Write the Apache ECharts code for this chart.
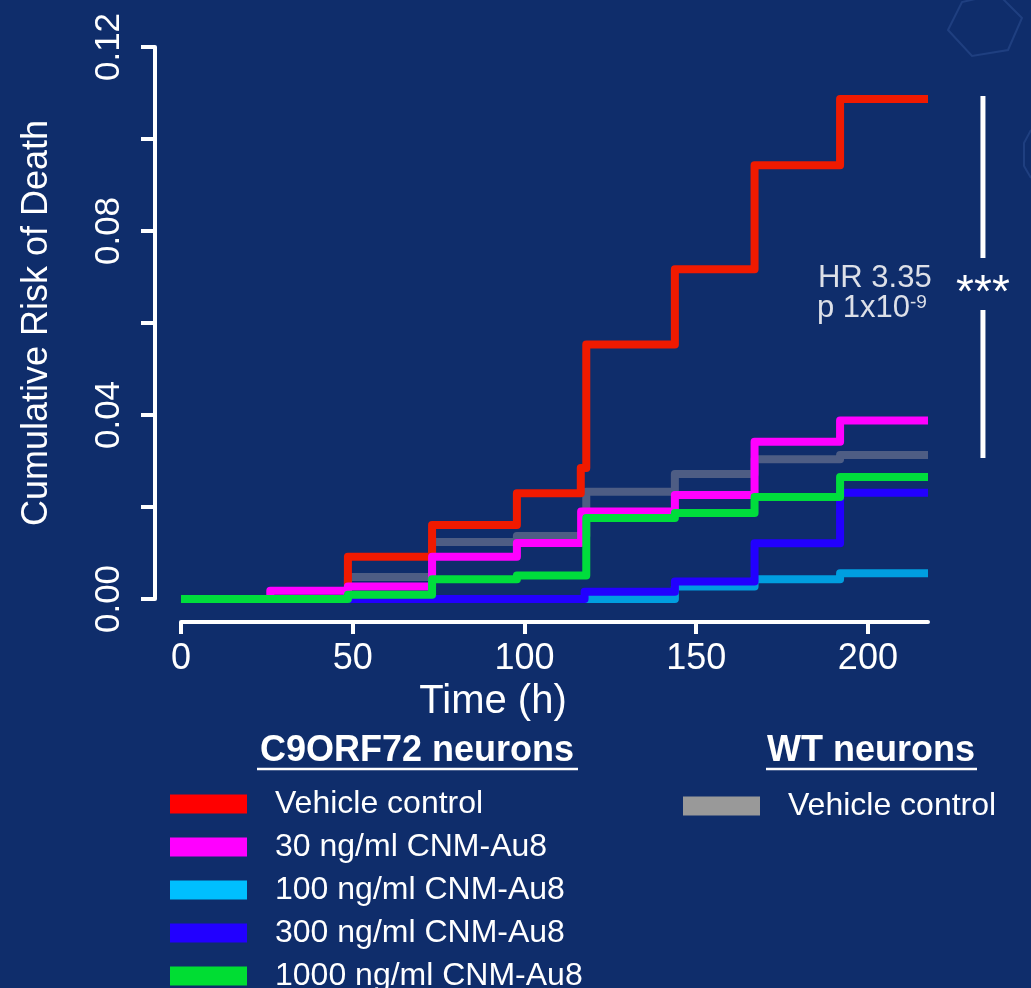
<!DOCTYPE html>
<html>
<head>
<meta charset="utf-8">
<script src="https://cdn.jsdelivr.net/npm/echarts@6/dist/echarts.min.js"></script>
<style>
html,body{margin:0;padding:0;background:#0f2d6b;}
#chart{width:1031px;height:988px;}
</style>
</head>
<body>
<div id="chart"></div>
<script>
// ---------- data ----------
const FONT = '"Liberation Sans", Arial, Helvetica, sans-serif';
const timeEnd = 217.5;
const xTicks = [0, 50, 100, 150, 200];
const yTicks = [0, 0.02, 0.04, 0.06, 0.08, 0.10, 0.12];
const yTickLabels = [0, 0.04, 0.08, 0.12];

// step times (h) and cumulative risk after each step
const wtVehicleT = [0, 48.6, 73.1, 97.8, 118.0, 143.8, 167.0, 191.9];
const wtVehicleV = [0, 0.0048, 0.0124, 0.0137, 0.0233, 0.0272, 0.0304, 0.0313];

const c9VehicleT = [0, 48.6, 73.1, 97.8, 116.4, 118.0, 143.8, 167.0, 191.9];
const c9VehicleV = [0, 0.0092, 0.0161, 0.0230, 0.0285, 0.0553, 0.0717, 0.0943, 0.1087];

const c9Au30T = [0, 26.0, 48.6, 73.1, 97.8, 116.5, 143.8, 167.0, 191.9];
const c9Au30V = [0, 0.0018, 0.0027, 0.0092, 0.0122, 0.0190, 0.0226, 0.0342, 0.0388];

const c9Au100T = [0, 143.8, 167.0, 191.9];
const c9Au100V = [0, 0.0027, 0.0043, 0.0056];

const c9Au300T = [0, 117.5, 143.8, 167.0, 191.9];
const c9Au300V = [0, 0.0016, 0.0038, 0.0121, 0.0231];

const c9Au1000T = [0, 48.6, 73.1, 97.8, 118.0, 143.8, 167.0, 191.9];
const c9Au1000V = [0, 0.0009, 0.0043, 0.0051, 0.0176, 0.0187, 0.0222, 0.0265];

const legendLabels = {
  'C9 Vehicle control': 'Vehicle control',
  'C9 30': '30 ng/ml CNM-Au8',
  'C9 100': '100 ng/ml CNM-Au8',
  'C9 300': '300 ng/ml CNM-Au8',
  'C9 1000': '1000 ng/ml CNM-Au8',
  'WT Vehicle control': 'Vehicle control'
};
const hrText = 'HR 3.35';
const pText = 'p 1x10';
const pExp = '-9';
const bracketX = 233.5;

// ---------- chart ----------
function steps(t, v) {
  const d = t.map((x, i) => [x, v[i]]);
  d.push([timeEnd, v[v.length - 1]]);
  return d;
}
function line(name, color, t, v) {
  return {
    name, type: 'line', step: 'end', data: steps(t, v),
    showSymbol: false, symbol: 'none', silent: true,
    emphasis: { disabled: true },
    lineStyle: { color, width: 8, cap: 'butt', join: 'round' },
    itemStyle: { color }
  };
}
function legendItem(name, color) {
  return { name, itemStyle: { color, borderWidth: 0 } };
}
const legendText = { color: '#ffffff', fontSize: 32, fontFamily: FONT, lineHeight: 32, padding: [0, 0, 0, 23] };

const chart = echarts.init(document.getElementById('chart'), null, { renderer: 'canvas' });
chart.setOption({
  animation: false,
  backgroundColor: '#0f2d6b',
  textStyle: { fontFamily: FONT },
  grid: { left: 181, right: 103, top: 47, bottom: 389, containLabel: false },
  xAxis: {
    type: 'value', min: 0, max: timeEnd, offset: 23,
    name: 'Time (h)', nameLocation: 'middle', nameGap: 56,
    nameTextStyle: { color: '#ffffff', fontSize: 40, fontFamily: FONT, padding: [0, 123, 0, 0] },
    axisLine: { show: true, onZero: false, lineStyle: { color: '#ffffff', width: 4 } },
    axisTick: { show: true, customValues: xTicks, length: 12, lineStyle: { color: '#ffffff', width: 4 } },
    axisLabel: { customValues: xTicks, color: '#ffffff', fontSize: 36, fontFamily: FONT, margin: 19 },
    splitLine: { show: false }
  },
  yAxis: {
    type: 'value', min: 0, max: 0.12, offset: 26,
    name: 'Cumulative Risk of Death', nameLocation: 'middle', nameRotate: 90, nameGap: 100,
    nameTextStyle: { color: '#ffffff', fontSize: 36, fontFamily: FONT },
    axisLine: { show: true, onZero: false, lineStyle: { color: '#ffffff', width: 4 } },
    axisTick: { show: true, customValues: yTicks, length: 14, lineStyle: { color: '#ffffff', width: 4 } },
    axisLabel: { customValues: yTickLabels, rotate: 90, color: '#ffffff', fontSize: 35, fontFamily: FONT, margin: 28,
      formatter: v => v.toFixed(2) },
    splitLine: { show: false }
  },
  legend: [
    {
      left: 170, top: 788, height: 300, padding: 0, orient: 'vertical', icon: 'rect', itemWidth: 77, itemHeight: 19, itemGap: 11,
      selectedMode: false, formatter: n => legendLabels[n], textStyle: legendText,
      data: [
        legendItem('C9 Vehicle control', '#ff0000'),
        legendItem('C9 30', '#ff00ff'),
        legendItem('C9 100', '#00bfff'),
        legendItem('C9 300', '#2200ff'),
        legendItem('C9 1000', '#00dd33')
      ]
    },
    {
      left: 683, top: 790, padding: 0, orient: 'vertical', icon: 'rect', itemWidth: 77, itemHeight: 19,
      selectedMode: false, formatter: n => legendLabels[n], textStyle: legendText,
      data: [legendItem('WT Vehicle control', '#999999')]
    }
  ],
  series: [
    line('WT Vehicle control', '#4e5d84', wtVehicleT, wtVehicleV),
    line('C9 Vehicle control', '#f01a00', c9VehicleT, c9VehicleV),
    line('C9 100', '#009ee0', c9Au100T, c9Au100V),
    line('C9 300', '#2200ff', c9Au300T, c9Au300V),
    line('C9 30', '#ff00ff', c9Au30T, c9Au30V),
    line('C9 1000', '#00dd3c', c9Au1000T, c9Au1000V)
  ]
});

// ---------- annotation & legend headings ----------
const pTop = chart.convertToPixel({ gridIndex: 0 }, [bracketX, c9VehicleV[c9VehicleV.length - 1]]);
const pBot = chart.convertToPixel({ gridIndex: 0 }, [bracketX, wtVehicleV[wtVehicleV.length - 1]]);
const bx = pTop[0];
const by1 = pTop[1] - 3, by2 = pBot[1] + 3;
const gc = (by1 + by2) / 2 + 7;
chart.setOption({
  graphic: [
    { type: 'polygon', silent: true, shape: { points: [[948, 30], [962, 2], [998, -6], [1022, 18], [1008, 50], [972, 56]] },
      style: { fill: 'none', stroke: '#1f3f80', lineWidth: 2 } },
    { type: 'polyline', silent: true, shape: { points: [[1031, 130], [1024, 143], [1024, 166], [1031, 178]] },
      style: { fill: 'none', stroke: '#1f3f80', lineWidth: 2 } },
    { type: 'line', shape: { x1: bx, y1: by1, x2: bx, y2: gc - 26 }, style: { stroke: '#ffffff', lineWidth: 5 } },
    { type: 'line', shape: { x1: bx, y1: gc + 26, x2: bx, y2: by2 }, style: { stroke: '#ffffff', lineWidth: 5 } },
    { type: 'text', x: bx, y: gc + 10, style: { text: '***', fill: '#ffffff', font: '46px ' + FONT,
      textAlign: 'center', textVerticalAlign: 'middle', align: 'center', verticalAlign: 'middle' } },
    { type: 'text', x: bx - 165, y: gc - 6, style: { text: hrText, fill: '#dde0e8', font: '31px ' + FONT,
      textAlign: 'left', textVerticalAlign: 'middle', align: 'left', verticalAlign: 'middle' } },
    { type: 'text', x: bx - 166, y: gc + 25, style: {
      text: '{a|' + pText + '}{s|' + pExp + '}', textAlign: 'left', textVerticalAlign: 'middle', align: 'left', verticalAlign: 'middle',
      rich: { a: { fill: '#dde0e8', fontSize: 31, fontFamily: FONT, lineHeight: 32, verticalAlign: 'top' },
              s: { fill: '#dde0e8', fontSize: 19, fontFamily: FONT, lineHeight: 32, verticalAlign: 'top' } } } },
    { type: 'text', x: 417, y: 751, style: { text: 'C9ORF72 neurons', fill: '#ffffff', font: 'bold 36px ' + FONT,
      textAlign: 'center', textVerticalAlign: 'middle', align: 'center', verticalAlign: 'middle' } },
    { type: 'line', shape: { x1: 257, y1: 769, x2: 578, y2: 769 }, style: { stroke: '#ffffff', lineWidth: 2.5 } },
    { type: 'text', x: 871, y: 751, style: { text: 'WT neurons', fill: '#ffffff', font: 'bold 36px ' + FONT,
      textAlign: 'center', textVerticalAlign: 'middle', align: 'center', verticalAlign: 'middle' } },
    { type: 'line', shape: { x1: 766, y1: 769, x2: 977, y2: 769 }, style: { stroke: '#ffffff', lineWidth: 2.5 } }
  ]
});
</script>
</body>
</html>
